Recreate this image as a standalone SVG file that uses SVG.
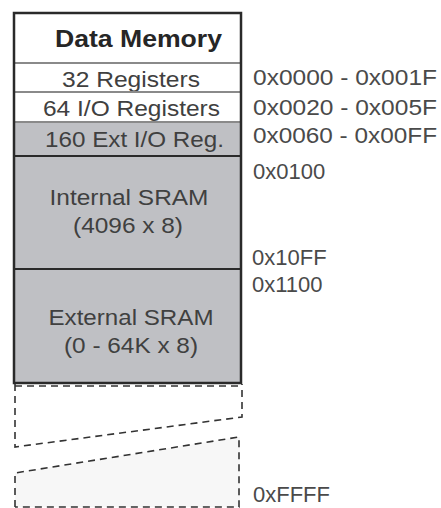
<svg xmlns="http://www.w3.org/2000/svg" width="441" height="508" viewBox="0 0 441 508">
<style>
.t{font-family:"Liberation Sans",Arial,sans-serif;font-size:22px;fill:#404040}
.title{font-family:"Liberation Sans",Arial,sans-serif;font-size:24px;font-weight:bold;fill:#262626}
.addr{font-family:"Liberation Sans",Arial,sans-serif;font-size:22px;fill:#4a4a4a}
.w{fill:#ffffff}
.g{fill:#bfc0c4}
.div{stroke:#8a8a8a;stroke-width:2;fill:none}
.dk{stroke:#2a2a2a;stroke-width:2;fill:none}
.dash{stroke:#333;stroke-width:1.6;fill:none;stroke-dasharray:7 5}
</style>
<rect width="441" height="508" fill="#ffffff"/>

<g id="unused-area">
  <line class="dash" x1="15" y1="386" x2="241" y2="386" stroke="#999"/>
  <path d="M15 473 L238 437 L240 437 L240 507 L15 507 Z" fill="#f7f7f7"/>
  <polyline class="dash" points="15,384 15,447 242,417 242,384"/>
  <polyline class="dash" points="15,507 15,473 239,437 239,507 15,507"/>
</g>

<g id="title">
  <rect class="w" x="14" y="13" width="227" height="50"/>
  <text class="title" x="138.5" y="47" text-anchor="middle" textLength="167" lengthAdjust="spacingAndGlyphs">Data Memory</text>
</g>
<g id="reg32">
  <rect class="w" x="14" y="63" width="227" height="29"/>
  <text class="t" x="131" y="87" text-anchor="middle" textLength="138" lengthAdjust="spacingAndGlyphs">32 Registers</text>
</g>
<g id="io64">
  <rect class="w" x="14" y="92" width="227" height="30"/>
  <text class="t" x="131.5" y="116" text-anchor="middle" textLength="177" lengthAdjust="spacingAndGlyphs">64 I/O Registers</text>
</g>
<g id="extio160">
  <rect class="g" x="14" y="122" width="227" height="34"/>
  <text class="t" x="134.5" y="147" text-anchor="middle" textLength="179" lengthAdjust="spacingAndGlyphs">160 Ext I/O Reg.</text>
</g>
<g id="internal-sram">
  <rect class="g" x="14" y="156" width="227" height="113"/>
  <text class="t" x="129" y="205" text-anchor="middle" textLength="159" lengthAdjust="spacingAndGlyphs">Internal SRAM</text>
  <text class="t" x="128" y="233" text-anchor="middle" textLength="110" lengthAdjust="spacingAndGlyphs">(4096 x 8)</text>
</g>
<g id="external-sram">
  <rect class="g" x="14" y="269" width="227" height="114"/>
  <text class="t" x="131" y="325" text-anchor="middle" textLength="165" lengthAdjust="spacingAndGlyphs">External SRAM</text>
  <text class="t" x="131" y="353" text-anchor="middle" textLength="134" lengthAdjust="spacingAndGlyphs">(0 - 64K x 8)</text>
</g>

<g id="dividers">
  <line class="div" x1="14" y1="63" x2="241" y2="63"/>
  <line class="div" x1="14" y1="92" x2="241" y2="92"/>
  <line class="div" x1="14" y1="122" x2="241" y2="122"/>
  <line class="dk" x1="14" y1="156" x2="241" y2="156" stroke="#555"/>
  <line class="dk" x1="14" y1="269" x2="241" y2="269"/>
</g>
<g id="frame">
  <rect x="14" y="13" width="227" height="370" fill="none" stroke="#2a2a2a" stroke-width="2.5"/>
</g>

<g id="addresses">
  <text class="addr" x="253" y="85" textLength="184" lengthAdjust="spacingAndGlyphs">0x0000 - 0x001F</text>
  <text class="addr" x="253" y="115" textLength="184" lengthAdjust="spacingAndGlyphs">0x0020 - 0x005F</text>
  <text class="addr" x="253" y="143" textLength="184" lengthAdjust="spacingAndGlyphs">0x0060 - 0x00FF</text>
  <text class="addr" x="253" y="179">0x0100</text>
  <text class="addr" x="252" y="265">0x10FF</text>
  <text class="addr" x="252" y="292">0x1100</text>
  <text class="addr" x="253" y="502">0xFFFF</text>
</g>
<g id="connectors"></g>
</svg>
